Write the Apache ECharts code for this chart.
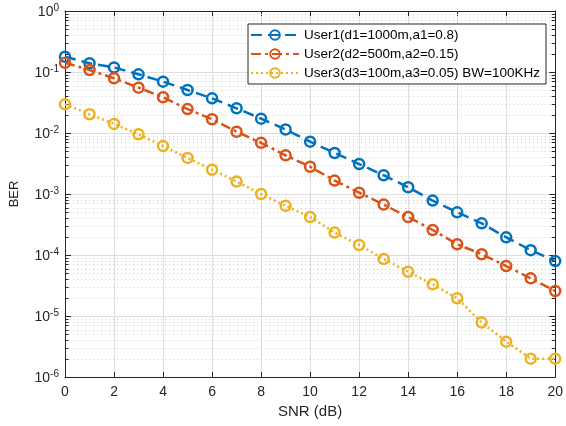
<!DOCTYPE html>
<html>
<head>
<meta charset="utf-8">
<script src="https://cdn.jsdelivr.net/npm/echarts@6/dist/echarts.min.js"></script>
<style>
  html, body { margin: 0; padding: 0; background: #fff; }
  #chart { width: 566px; height: 426px; }
</style>
</head>
<body>
<div id="chart"></div>
<script>
// SNR sweep (dB)
const snr = [0, 1, 2, 3, 4, 5, 6, 7, 8, 9, 10, 11, 12, 13, 14, 15, 16, 17, 18, 19, 20];

// Simulated bit error rate per user
const berUser1 = [0.178, 0.139, 0.119, 0.0917, 0.0694, 0.0507, 0.037, 0.0254, 0.0172, 0.0114,
  0.0072, 0.0047, 0.0031, 0.00203, 0.00129, 0.00078, 0.0005, 0.00033, 0.000195, 0.00012, 0.0000795];
const berUser2 = [0.142, 0.108, 0.079, 0.0553, 0.0385, 0.0247, 0.0168, 0.0105, 0.0069, 0.0043,
  0.0028, 0.00166, 0.00105, 0.00067, 0.00042, 0.000257, 0.00015, 0.000103, 0.000066, 0.0000415, 0.0000257];
const berUser3 = [0.0295, 0.0203, 0.0141, 0.0095, 0.0061, 0.0039, 0.0025, 0.0016, 0.001, 0.00064,
  0.00042, 0.000233, 0.000146, 0.000086, 0.000053, 0.000033, 0.0000195, 0.0000078, 0.0000038, 0.000002, 0.000002];

const seriesNames = [
  'User1(d1=1000m,a1=0.8)',
  'User2(d2=500m,a2=0.15)',
  'User3(d3=100m,a3=0.05) BW=100KHz'
];

// Axis ticks
const xTicks = [0, 2, 4, 6, 8, 10, 12, 14, 16, 18, 20];
const yDecades = [-6, -5, -4, -3, -2, -1, 0];
const minorMultipliers = [2, 3, 4, 5, 6, 7, 8, 9];

const FONT = "'Liberation Sans', Arial, Helvetica, sans-serif";
const INK = '#262626';
const colors = ['#0072BD', '#D95319', '#EDB120'];
const dashes = [[11, 6], [10, 4, 3, 4], [2, 3]];

// minor ticks on the log axis: 2..9 x 10^k
const minorTicks = [];
yDecades.slice(0, -1).forEach(function (k) {
  minorMultipliers.forEach(function (m) { minorTicks.push([0, m * Math.pow(10, k)]); });
});

function lineSeries(i, values) {
  return {
    name: seriesNames[i],
    type: 'line',
    data: snr.map(function (x, j) { return [x, values[j]]; }),
    symbol: 'circle',
    symbolSize: 10,
    color: colors[i],
    itemStyle: { color: 'rgba(255,255,255,0)', borderColor: colors[i], borderWidth: 2.5 },
    lineStyle: { color: colors[i], width: 2.5, type: dashes[i] },
    emphasis: { disabled: true },
    z: 5 + i
  };
}

const chart = echarts.init(document.getElementById('chart'), null, { renderer: 'canvas' });

chart.setOption({
  animation: false,
  backgroundColor: '#ffffff',
  textStyle: { fontFamily: FONT },
  grid: { left: 63, top: 11, right: 7, bottom: 49, containLabel: false },
  legend: {
    data: seriesNames,
    orient: 'vertical',
    left: 248,
    top: 24,
    width: 298,
    padding: [4, 6, 4, 2],
    itemWidth: 48,
    itemHeight: 12,
    itemGap: 5,
    backgroundColor: '#ffffff',
    borderColor: INK,
    borderWidth: 1,
    textStyle: { fontFamily: FONT, fontSize: 13.5, color: '#000' }
  },
  xAxis: [{
    type: 'value',
    min: 0, max: 20, interval: 2,
    name: 'SNR (dB)',
    nameLocation: 'middle',
    nameGap: 26,
    nameTextStyle: { fontFamily: FONT, fontSize: 15, color: INK },
    axisLine: { onZero: false, lineStyle: { color: INK, width: 1 } },
    axisTick: { inside: true, length: 5, lineStyle: { color: INK } },
    axisLabel: { fontFamily: FONT, fontSize: 14, color: INK, margin: 8,
      customValues: xTicks },
    splitLine: { show: true, lineStyle: { color: '#dedede', width: 1 } }
  }, {
    type: 'value', position: 'top',
    min: 0, max: 20, interval: 2,
    axisLine: { onZero: false, lineStyle: { color: INK, width: 1 } },
    axisTick: { inside: true, length: 5, lineStyle: { color: INK } },
    axisLabel: { show: false },
    splitLine: { show: false }
  }],
  yAxis: [{
    type: 'log',
    logBase: 10,
    min: 1e-6, max: 1,
    splitNumber: 6,
    name: 'BER',
    nameLocation: 'middle',
    nameGap: 44,
    nameTextStyle: { fontFamily: FONT, fontSize: 13, color: INK },
    axisLine: { onZero: false, lineStyle: { color: INK, width: 1 } },
    axisTick: { inside: true, length: 6, lineStyle: { color: INK } },
    axisLabel: {
      margin: 6,
      color: INK,
      formatter: function (v) {
        const e = Math.round(Math.log10(v));
        return '{b|10}{s|' + e + '}';
      },
      rich: {
        b: { fontFamily: FONT, fontSize: 14, color: INK, lineHeight: 16, verticalAlign: 'bottom' },
        s: { fontFamily: FONT, fontSize: 10, color: INK, lineHeight: 16, verticalAlign: 'top', padding: [0, 0, 6, 0] }
      }
    },
    splitLine: { show: true, lineStyle: { color: '#dedede', width: 1 } }
  }, {
    type: 'log', position: 'right',
    logBase: 10,
    min: 1e-6, max: 1,
    splitNumber: 6,
    axisLine: { onZero: false, lineStyle: { color: INK, width: 1 } },
    axisTick: { inside: true, length: 6, lineStyle: { color: INK } },
    axisLabel: { show: false },
    splitLine: { show: false }
  }],
  series: [
    {
      // dotted minor grid and minor ticks of the log axis
      type: 'custom',
      name: 'minor',
      silent: true,
      clip: false,
      z: 1,
      encode: { x: 0, y: 1 },
      data: minorTicks,
      renderItem: function (params, api) {
        const cs = params.coordSys;
        const y = Math.round(api.coord([0, api.value(1)])[1]) + 0.5;
        const x0 = cs.x, x1 = cs.x + cs.width;
        return {
          type: 'group',
          children: [
            { type: 'line', shape: { x1: x0, y1: y, x2: x1, y2: y },
              style: { stroke: '#cfcfcf', lineWidth: 1, lineDash: [1, 3] } },
            { type: 'line', shape: { x1: x0, y1: y, x2: x0 + 3.5, y2: y },
              style: { stroke: INK, lineWidth: 1 } },
            { type: 'line', shape: { x1: x1, y1: y, x2: x1 - 3.5, y2: y },
              style: { stroke: INK, lineWidth: 1 } }
          ]
        };
      }
    },
    lineSeries(0, berUser1),
    lineSeries(1, berUser2),
    lineSeries(2, berUser3)
  ]
});
</script>
</body>
</html>
